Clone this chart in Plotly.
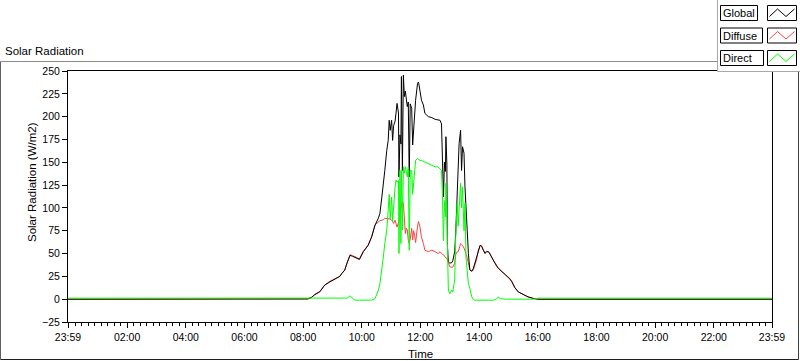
import plotly.graph_objects as go

# time in minutes since midnight (-1 = 23:59 of the previous day)
minutes = [-1, 480, 490, 497, 504, 514, 524, 535, 548, 555, 559, 565, 570, 576, 581, 586, 595, 603, 613, 620,
           627, 634, 637, 641, 644, 647, 651, 654, 656, 658, 661, 663, 665, 668, 670, 672, 675, 676, 678, 680,
           681, 683, 685, 687, 689, 691, 693, 695, 697, 699, 702, 704, 706, 708, 710, 714, 716, 719, 722, 726,
           729, 736, 743, 750, 756, 760, 763, 765, 767, 769, 771, 772, 774, 775, 777, 780, 784, 786, 790, 792,
           795, 797, 799, 802, 804, 806, 809, 811, 813, 816, 818, 821, 825, 828, 831, 835, 838, 842, 845, 848,
           852, 855, 859, 862, 869, 876, 879, 883, 890, 897, 903, 907, 913, 920, 930, 940, 951, 960, 1439]

global_rad = [0, 0, 0.3, 2, 5, 8, 15.4, 19, 22.7, 25, 28, 31.8, 40, 48, 47, 46, 43.5, 52, 59, 68,
              81, 89, 94, 112, 130, 141, 163, 174, 196, 185, 196, 174, 190, 195, 204, 214.5, 204, 134, 180, 170,
              244, 141, 245.6, 222, 228, 214.5, 211, 216, 134, 214, 209, 169, 190, 211, 218, 236.5, 238, 228, 218, 212.7,
              203.6, 200, 199, 197, 196, 196, 192, 160, 112, 150, 140, 178, 148, 60, 41, 39.5, 40, 42, 52, 72,
              112, 130, 170.7, 185, 141, 167, 160, 123, 97.6, 68, 50, 32, 30.7, 33.6, 39, 46, 53.7, 59, 58, 53.7,
              50, 52, 52, 49.5, 42, 36, 34, 32, 28, 25.5, 22, 19, 12.5, 8, 5, 2.5, 0.8, 0, 0]

diffuse_rad = [0, 0, 0.3, 2, 5.3, 8.5, 15.4, 19.8, 23.2, 25, 28.5, 31.8, 40, 48.8, 47.6, 46.7, 44, 52.4, 59.5, 68.3,
               81.5, 85, 86, 86.6, 87, 88.5, 88.5, 88.5, 88, 87.5, 86.6, 85, 83, 86.6, 82, 79, 84, 86, 95, 100,
               104, 107, 105, 90, 72, 78, 76, 64.7, 61, 66, 77.5, 65, 75, 70, 62, 80, 85, 79, 67.6, 61,
               53.7, 52, 53.7, 52, 50, 52, 50, 49, 48.7, 47, 46, 45, 44.6, 43, 40, 35.4, 35, 35, 39.5, 48.7,
               52, 52, 55, 61, 60, 59, 56, 53.7, 50, 44.6, 38, 31.8, 30.7, 31.8, 37, 44, 53, 59, 58.5, 54,
               51, 52.5, 52, 50, 42.5, 36, 34.5, 32, 28.3, 25.5, 22.5, 19, 13, 8, 5, 2.5, 0.8, 0, 0]

direct_rad = [1.1, 1.1, 1.0, 0.8, 0.8, 0.8, 0.8, 0.8, 0.8, 0.8, 0.8, 0.8, 1.2, 3.6, 1.5, -1.1, -1.1, -1.1, -1.1, -1.0,
              0.7, 9.9, 17, 31.8, 46, 61, 75.7, 97.6, 115, 88, 112, 85, 104, 123, 130.5, 128, 130, 50, 141, 61,
              141, 75.7, 145, 138, 145, 140, 134, 145, 53.7, 141, 141, 115, 130, 145, 152, 154, 153, 152, 152, 151,
              150.6, 148.8, 147, 145, 145, 143, 141, 112, 64, 108, 90, 127, 100, 61, 10, 6, 10, 8, 21, 68,
              105, 80, 97.6, 127, 100, 123, 75, 105, 46, 32, 17, 11.7, 2.5, -0.4, -1.1, -1.1, -1.1, -1.1, -1.1, -1.1,
              -1.1, -1.1, -1.1, -1.1, -1.1, 0.5, 2.5, 0.5, 0, 0, 0, 0, 0, 0, 0, 0, 0, 1.1, 1.1]

series_names = ["Global", "Diffuse", "Direct"]
series_colors = {"Global": "#000000", "Diffuse": "#ff4040", "Direct": "#00ff00"}

x_tick_minutes = [-1, 120, 240, 360, 480, 600, 720, 840, 960, 1080, 1200, 1320, 1439]
x_tick_labels = ["23:59", "02:00", "04:00", "06:00", "08:00", "10:00", "12:00", "14:00",
                 "16:00", "18:00", "20:00", "22:00", "23:59"]
y_ticks = [-25, 0, 25, 50, 75, 100, 125, 150, 175, 200, 225, 250]

FONT = "Liberation Sans"
W, H = 800, 361
L, R, T, B = 68, 28, 71, 39
PW, PH = W - L - R, H - T - B


def px(x):
    return (x - L) / PW


def py(y):
    return (H - B - y) / PH


fig = go.Figure()
series_values = {"Global": global_rad, "Diffuse": diffuse_rad, "Direct": direct_rad}
for name in ["Diffuse", "Global", "Direct"]:
    fig.add_trace(go.Scatter(x=minutes, y=series_values[name], mode="lines", name=name,
                             line=dict(color=series_colors[name], width=1), showlegend=False,
                             hoverinfo="skip"))

shapes = []
annotations = []


def seg(x0, y0, x1, y1, color, width=1):
    shapes.append(dict(type="line", xref="paper", yref="paper", x0=px(x0), y0=py(y0), x1=px(x1), y1=py(y1),
                       line=dict(color=color, width=width), layer="above"))


# outer frame
seg(0.5, 61.5, 798.5, 61.5, "#8c8c8c")
seg(0.5, 61.5, 0.5, 359.5, "#606060")
seg(798.5, 61.5, 798.5, 359.5, "#404040")
seg(0.5, 359.5, 798.5, 359.5, "#202020")

# legend panel
shapes.append(dict(type="rect", xref="paper", yref="paper", x0=px(717.5), x1=px(801), y0=py(71.5), y1=py(-1),
                   fillcolor="white", line=dict(width=0), layer="above"))
seg(717.5, -1, 717.5, 71.5, "#a8a8a8")
seg(717.5, 71.5, 801, 71.5, "#a8a8a8")

row_tops = [5.5, 28, 50.5]
name_box_right = [757.5, 762.5, 763.5]
for i, name in enumerate(series_names):
    top = row_tops[i]
    shapes.append(dict(type="rect", xref="paper", yref="paper", x0=px(720.5), x1=px(name_box_right[i]),
                       y0=py(top + 15), y1=py(top), fillcolor="white", line=dict(color="black", width=1),
                       layer="above"))
    shapes.append(dict(type="rect", xref="paper", yref="paper", x0=px(767.5), x1=px(796.5),
                       y0=py(top + 15), y1=py(top), fillcolor="white", line=dict(color="black", width=1),
                       layer="above"))
    zz = [(769.5, top + 11), (777.5, top + 3.5), (786, top + 11), (794.5, top + 3.5)]
    path = "M " + " L ".join(f"{px(a):.5f},{py(b):.5f}" for a, b in zz)
    shapes.append(dict(type="path", xref="paper", yref="paper", path=path,
                       line=dict(color=series_colors[name], width=1), layer="above"))
    annotations.append(dict(text=name, xref="paper", yref="paper", x=px(721), y=py(top + 7.8),
                            xanchor="left", yanchor="middle", showarrow=False,
                            font=dict(family=FONT, size=11, color="black")))

annotations.append(dict(text="Solar Radiation", xref="paper", yref="paper", x=px(2.5), y=py(51),
                        xanchor="left", yanchor="middle", showarrow=False,
                        font=dict(family=FONT, size=11.5, color="black")))
annotations.append(dict(text="Solar Radiation (W/m2)", xref="paper", yref="paper", x=px(32), y=py(182),
                        xanchor="center", yanchor="middle", textangle=-90, showarrow=False,
                        font=dict(family=FONT, size=11.5, color="black")))
annotations.append(dict(text="Time", xref="paper", yref="paper", x=px(420), y=py(354),
                        xanchor="center", yanchor="middle", showarrow=False,
                        font=dict(family=FONT, size=11.5, color="black")))

fig.update_layout(
    width=W, height=H, margin=dict(l=L, r=R, t=T, b=B, pad=0),
    paper_bgcolor="white", plot_bgcolor="white",
    shapes=shapes, annotations=annotations, showlegend=False,
    xaxis=dict(range=[-1, 1439], tickmode="array", tickvals=x_tick_minutes, ticktext=x_tick_labels,
               showline=True, linecolor="black", linewidth=1, mirror=True, showgrid=False, zeroline=False,
               ticks="outside", ticklen=5, tickwidth=1, tickcolor="black",
               tickfont=dict(family=FONT, size=10.5, color="black"),
               minor=dict(ticks="outside", ticklen=3, tickwidth=1, tickcolor="black",
                          tick0=120, dtick=40 / 3, showgrid=False)),
    yaxis=dict(range=[-25, 250], tickmode="array", tickvals=y_ticks,
               showline=True, linecolor="black", linewidth=1, mirror=True, showgrid=False, zeroline=False,
               ticks="outside", ticklen=5, tickwidth=1, tickcolor="black",
               tickfont=dict(family=FONT, size=10.5, color="black")),
)

fig.write_html("out.html", config={"displayModeBar": False},
               post_script="document.body.style.margin='0';document.body.style.overflow='hidden';")
